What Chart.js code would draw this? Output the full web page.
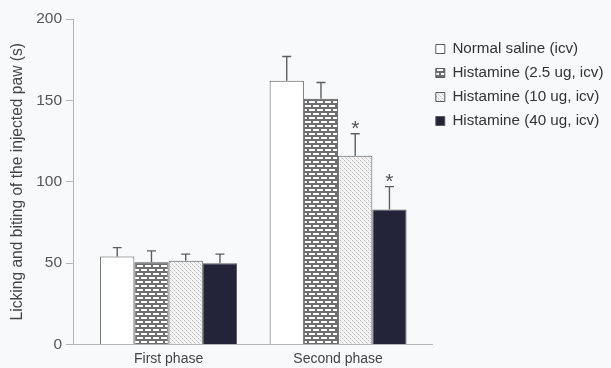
<!DOCTYPE html>
<html>
<head>
<meta charset="utf-8">
<script src="https://cdn.jsdelivr.net/npm/chart.js@4.4.1/dist/chart.umd.min.js"></script>
<style>
  html, body { margin: 0; padding: 0; background: #f7f9fb; }
  #wrap { width: 611px; height: 368px; position: relative; }
</style>
</head>
<body>
<div id="wrap"><canvas id="chart"></canvas></div>
<script>
// Phases on the x axis and their positions on the linear scale
const phases = ['First phase', 'Second phase'];
const phasePositions = [1, 2];

// Group names
const groups = ['Normal saline (icv)', 'Histamine (2.5 ug, icv)', 'Histamine (10 ug, icv)', 'Histamine (40 ug, icv)'];

// Mean licking/biting time (s) for each group, per phase
const salineMeans = [54, 162];
const hist25Means = [50.5, 151];
const hist10Means = [51.5, 116];
const hist40Means = [50, 83];

// Standard error (upper whisker) per group, per phase
const salineErr = [5.5, 15];
const hist25Err = [7, 10];
const hist10Err = [4, 13.5];
const hist40Err = [5.5, 14];

// Significance marks per group, per phase
const salineSig = ['', ''];
const hist25Sig = ['', ''];
const hist10Sig = ['', '*'];
const hist40Sig = ['', '*'];

// Y axis ticks
const yTicks = [0, 50, 100, 150, 200];

const FONT = "'Liberation Sans', Arial, Helvetica, sans-serif";
const LEGEND_SIZE = 15.2;

function makeTile(w, h, draw) {
  const c = document.createElement('canvas');
  c.width = w; c.height = h;
  const g = c.getContext('2d');
  draw(g);
  return document.getElementById('chart').getContext('2d').createPattern(c, 'repeat');
}

// Brick fill: white bricks on grey mortar
const brickFill = makeTile(8, 8, g => {
  g.fillStyle = '#6e6e6e';
  g.fillRect(0, 0, 8, 8);
  g.fillStyle = '#ffffff';
  g.fillRect(1, 1, 6, 2);
  g.fillRect(5, 5, 6, 2);
  g.fillRect(-3, 5, 6, 2);
});

// Light dotted fill
const dotFill = makeTile(4, 4, g => {
  g.fillStyle = '#f4f4f4';
  g.fillRect(0, 0, 4, 4);
  g.fillStyle = '#bdbdbd';
  g.fillRect(0, 0, 1, 1);
  g.fillRect(2, 2, 1, 1);
  g.fillStyle = '#dcdcdc';
  g.fillRect(1, 1, 1, 1);
  g.fillRect(3, 3, 1, 1);
});

const toPoints = vals => vals.map((v, i) => ({ x: phasePositions[i], y: v }));

const seriesMeans = [salineMeans, hist25Means, hist10Means, hist40Means];
const seriesErr = [salineErr, hist25Err, hist10Err, hist40Err];
const seriesSig = [salineSig, hist25Sig, hist10Sig, hist40Sig];
const seriesFill = ['#ffffff', brickFill, dotFill, '#23233a'];

const datasets = groups.map((name, k) => ({
  label: name,
  data: toPoints(seriesMeans[k]),
  backgroundColor: seriesFill[k],
  borderColor: '#5a5a5a',
  borderWidth: 1,
  errors: seriesErr[k],
  marks: seriesSig[k]
}));

// Upper error whiskers and significance asterisks
const errorBars = {
  id: 'errorBars',
  afterDatasetsDraw(chart) {
    const ctx = chart.ctx;
    const y = chart.scales.y;
    ctx.save();
    chart.data.datasets.forEach((ds, di) => {
      const meta = chart.getDatasetMeta(di);
      meta.data.forEach((bar, i) => {
        const top = y.getPixelForValue(ds.data[i].y + ds.errors[i]);
        ctx.strokeStyle = '#5e5e5e';
        ctx.lineWidth = 1.4;
        ctx.beginPath();
        ctx.moveTo(bar.x, bar.y);
        ctx.lineTo(bar.x, top);
        ctx.moveTo(bar.x - 4.5, top);
        ctx.lineTo(bar.x + 4.5, top);
        ctx.stroke();
        if (ds.marks[i]) {
          ctx.fillStyle = '#555';
          ctx.font = '21px ' + FONT;
          ctx.textAlign = 'center';
          ctx.textBaseline = 'alphabetic';
          ctx.fillText(ds.marks[i], bar.x, top + 1);
        }
      });
    });
    ctx.restore();
  }
};

// Place the legend block beside the plot
const legendPlacement = {
  id: 'legendPlacement',
  afterLayout(chart) {
    const lg = chart.legend;
    lg.left -= 5; lg.right -= 5;
    lg.top += 13.6; lg.bottom += 13.6;
  }
};

new Chart(document.getElementById('chart'), {
  type: 'bar',
  data: { datasets },
  plugins: [errorBars, legendPlacement],
  options: {
    responsive: true,
    maintainAspectRatio: false,
    animation: false,
    layout: { padding: { top: 19, left: 0, right: 0, bottom: 0 } },
    datasets: { bar: { categoryPercentage: 0.808, barPercentage: 1.0, borderSkipped: 'start' } },
    plugins: {
      tooltip: { enabled: false },
      legend: {
        position: 'right',
        align: 'start',
        maxWidth: 179,
        labels: {
          boxWidth: 9,
          boxHeight: 9,
          padding: 24 - LEGEND_SIZE,
          color: '#333',
          font: { family: FONT, size: LEGEND_SIZE }
        }
      }
    },
    scales: {
      x: {
        type: 'linear',
        offset: false,
        min: 0.436,
        max: 2.554,
        afterBuildTicks: s => { s.ticks = phasePositions.map(v => ({ value: v })); },
        afterFit: s => { s.height = 23.5; },
        grid: { display: false, drawTicks: false, offset: false },
        border: { display: true, color: '#b4b4b4', width: 1 },
        ticks: {
          autoSkip: false,
          maxRotation: 0,
          padding: 6,
          color: '#444',
          font: { family: FONT, size: 14 },
          callback: v => phases[phasePositions.indexOf(v)] || ''
        }
      },
      y: {
        min: 0,
        max: 200,
        afterBuildTicks: s => { s.ticks = yTicks.map(v => ({ value: v })); },
        afterFit: s => { s.width = 73; },
        grid: { display: true, drawOnChartArea: false, drawTicks: true, tickLength: 7, color: '#b4b4b4' },
        border: { display: true, color: '#b4b4b4', width: 1 },
        ticks: {
          padding: 4,
          color: '#555',
          font: { family: FONT, size: 15.5 }
        },
        title: {
          display: true,
          text: 'Licking and biting of the injected paw (s)',
          color: '#444',
          font: { family: FONT, size: 15.6 },
          padding: { top: 8, bottom: 2 }
        }
      }
    }
  }
});
</script>
</body>
</html>
